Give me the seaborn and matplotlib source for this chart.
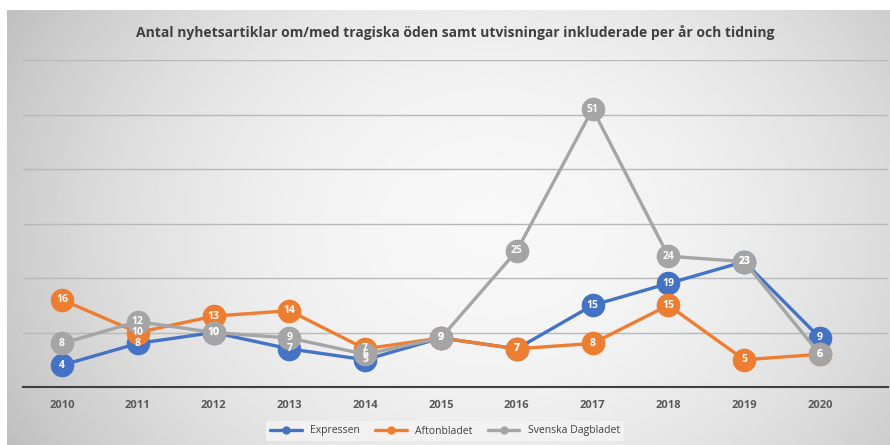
import matplotlib
matplotlib.use('Agg')
import matplotlib.pyplot as plt
import seaborn as sns
import pandas as pd
import numpy as np

# data
years = [2010, 2011, 2012, 2013, 2014, 2015, 2016, 2017, 2018, 2019, 2020]
expressen = [4, 8, 10, 7, 5, 9, 7, 15, 19, 23, 9]
aftonbladet = [16, 10, 13, 14, 7, 9, 7, 8, 15, 5, 6]
svd = [8, 12, 10, 9, 6, 9, 25, 51, 24, 23, 6]
series_names = ['Expressen', 'Aftonbladet', 'Svenska Dagbladet']
title = 'Antal nyhetsartiklar om/med tragiska öden samt utvisningar inkluderade per år och tidning'

colors = ['#4472C4', '#ED7D31', '#A5A5A5']

df = pd.DataFrame({
    'year': years * 3,
    'count': expressen + aftonbladet + svd,
    'paper': [n for n in series_names for _ in years],
})

sns.set_theme(style='white')
plt.rcParams['font.family'] = ['Open Sans', 'DejaVu Sans']

fig = plt.figure(figsize=(8.9, 4.45), dpi=100)
fig.patch.set_facecolor('white')

# gradient background like the slide
bg = fig.add_axes([0.008, 0, 0.992, 0.978], zorder=-5)
xx = np.linspace(-1, 1, 400)
yy = np.linspace(-1, 1, 200)
X, Y = np.meshgrid(xx, yy)
val = 0.97 - 0.17 * ((X - 0.1) / 1.1) ** 2 - 0.05 * Y ** 2
bg.imshow(val, cmap='gray', vmin=0, vmax=1, aspect='auto', extent=[0, 1, 0, 1])
bg.axis('off')

# plot area: 2010 at x=62px, 2020 at x=820px, axis from 23 to 888px
px_per_year = (820 - 62) / 10
ax = fig.add_axes([23 / 890, 1 - 387 / 445, (888 - 23) / 890, (387 - 60) / 445])
ax.patch.set_alpha(0)

sns.lineplot(data=df, x='year', y='count', hue='paper', palette=colors,
             marker='o', markersize=17, markeredgewidth=0, linewidth=2.4,
             ax=ax, legend=False)

for vals, c in zip([expressen, aftonbladet, svd], colors):
    for x, v in zip(years, vals):
        ax.text(x, v, str(v), ha='center', va='center', color='white',
                fontsize=7.5, fontweight='bold', zorder=10)

ax.set_xlim(2010 - (62 - 23) / px_per_year, 2020 + (888 - 820) / px_per_year)
ax.set_ylim(0, 60)
ax.set_yticks(range(0, 61, 10))
ax.set_yticklabels([])
ax.yaxis.grid(True, color='#b8b8b8', linewidth=1)
ax.set_axisbelow(True)
ax.set_xticks(years)
ax.set_xticklabels([str(y) for y in years], fontsize=8, fontweight='bold', color='#595959')
ax.tick_params(axis='x', length=0, pad=9)
ax.tick_params(axis='y', length=0)
for s in ['top', 'right', 'left']:
    ax.spines[s].set_visible(False)
ax.spines['bottom'].set_color('#404040')
ax.spines['bottom'].set_linewidth(1.5)
ax.set_xlabel('')
ax.set_ylabel('')

fig.text(0.512, 1 - 32 / 445, title, ha='center', va='center',
         fontsize=10, fontweight='bold', color='#404040')

handles = [plt.Line2D([], [], color=c, marker='o', markersize=5, linewidth=2.4)
           for c in colors]
leg = fig.legend(handles, series_names, loc='center', bbox_to_anchor=(0.5, 1 - 431 / 445),
                 ncol=3, frameon=True, fontsize=7.5, handlelength=3, columnspacing=1.5,
                 borderpad=0.4, fancybox=False)
leg.get_frame().set_facecolor('#f4f4f4')
leg.get_frame().set_edgecolor('none')
for t in leg.get_texts():
    t.set_color('#404040')

fig.savefig('out.png', dpi=100)
